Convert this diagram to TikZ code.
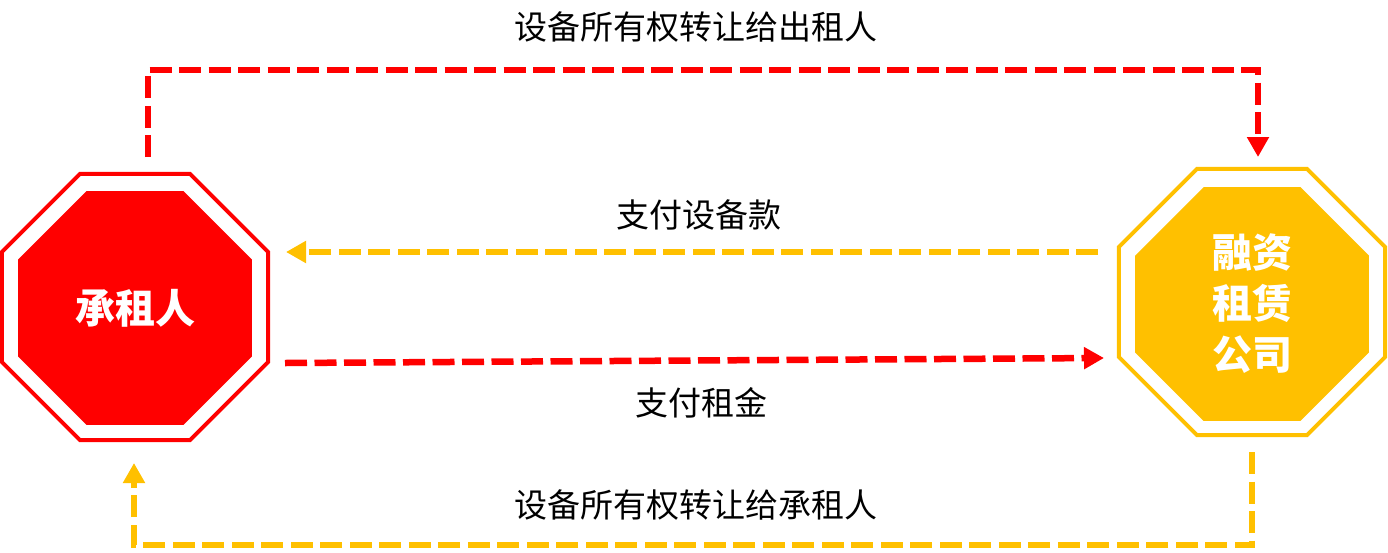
\documentclass[tikz,border=0pt]{standalone}
\usepackage{fontspec}
\newfontfamily\cjk{Noto Sans CJK SC}
\usetikzlibrary{shapes.geometric,arrows.meta}
\definecolor{signred}{HTML}{FF0000}
\definecolor{signgold}{HTML}{FFC000}
\tikzset{
  octout/.style={regular polygon, regular polygon sides=8, draw=#1, line width=4pt,
    inner sep=0pt, outer sep=0pt, minimum size=288pt},
  octin/.style={regular polygon, regular polygon sides=8, fill=#1, draw=none,
    inner sep=0pt, outer sep=0pt, minimum size=253pt, text=white,
    font=\cjk\bfseries\fontsize{40}{51}\selectfont, align=center},
  flow/.style={draw=#1, line width=6.5pt, dash pattern=on 22pt off 7.5pt,
    -{Triangle[length=20pt,width=21pt]}},
  lbl/.style={font=\cjk\fontsize{33}{38}\selectfont}
}
\begin{document}
\begin{tikzpicture}[x=1pt,y=-1pt]
\useasboundingbox (0,0) rectangle (1388,552);

% the two parties
\node[octout=signred] (lesseeout) at (135,307) {};
\node[octin=signred] (lessee) at (135,308) {承租人};
\node[octout=signgold] (lessorout) at (1252,302) {};
\node[octin=signgold] (lessor) at (1252,304) {融资\\租赁\\公司};

% arrow ends
\coordinate (topA) at (148,157);
\coordinate (topB) at (1258,70);
\coordinate (topC) at (1258,157);
\coordinate (payA) at (1098,252);
\coordinate (payB) at (286,252);
\coordinate (rentA) at (285,363);
\coordinate (rentB) at (1104,358);
\coordinate (botA) at (1252,452);
\coordinate (botB) at (134,545);
\coordinate (botC) at (134,463);

% flows
\draw[flow=signred] (topA) |- (topB) -- (topC);
\draw[flow=signgold] (payA) -- (payB);
\draw[flow=signred] (rentA) -- (rentB);
\draw[flow=signgold] (botA) |- (botB) -- (botC);

% labels
\node[lbl] (ownlessor) at (696,27) {设备所有权转让给出租人};
\node[lbl] (payequip) at (699,215) {支付设备款};
\node[lbl] (payrent) at (701,403) {支付租金};
\node[lbl] (ownlessee) at (696,505) {设备所有权转让给承租人};
\end{tikzpicture}
\end{document}
